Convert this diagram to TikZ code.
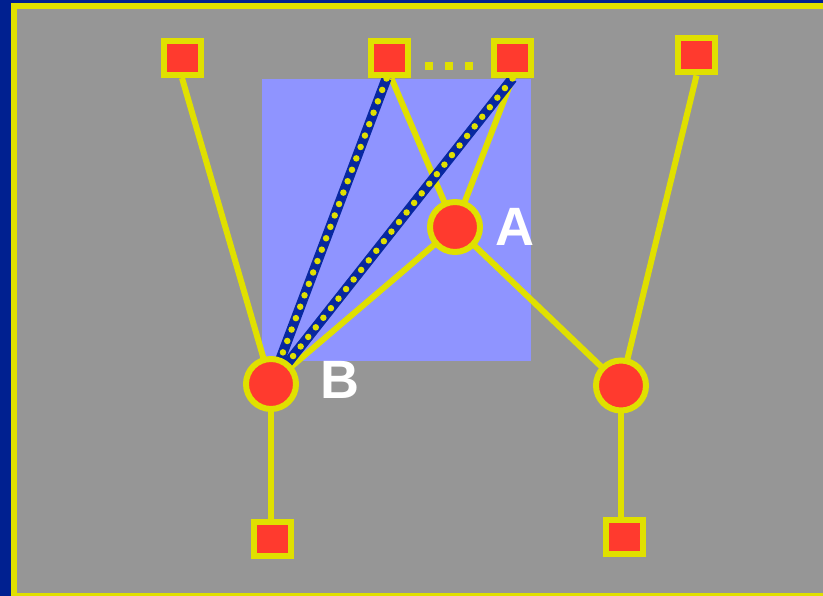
\documentclass[tikz,border=0pt]{standalone}
\usepackage{fontspec}
\setmainfont{Liberation Sans}
\definecolor{bgblue}{RGB}{0,32,144}
\definecolor{panelgray}{RGB}{150,150,150}
\definecolor{ylw}{RGB}{224,224,0}
\definecolor{rd}{RGB}{255,58,46}
\definecolor{lblue}{RGB}{143,148,255}
\definecolor{dblue}{RGB}{8,40,160}
\pgfdeclarelayer{bg}
\pgfdeclarelayer{edges}
\pgfsetlayers{bg,edges,main}
\tikzset{
  sq/.style={draw=ylw, fill=rd, line width=6pt, rectangle, minimum width=37pt, minimum height=34pt, inner sep=0pt},
  rnd/.style={draw=ylw, fill=rd, line width=6pt, circle, minimum size=50pt, inner sep=0pt},
  edge/.style={draw=ylw, line width=6pt},
  dotband/.style={draw=dblue, line width=10pt},
  dotline/.style={draw=ylw, line width=6.5pt, line cap=round, dash pattern=on 0pt off 12.2pt},
  lab/.style={text=white, font=\fontsize{54}{54}\selectfont\bfseries, inner sep=0pt},
  dotsq/.style={fill=ylw, minimum size=8pt, inner sep=0pt, rectangle}
}
\begin{document}
\begin{tikzpicture}[x=1pt,y=-1pt]
\useasboundingbox (0,0) rectangle (823,596);
\begin{pgfonlayer}{bg}
\fill[bgblue] (0,0) rectangle (823,596);
\draw[ylw, line width=6pt, fill=panelgray] (14,6.5) rectangle (840,596);
\fill[lblue] (262,79) rectangle (531,361);
\end{pgfonlayer}
% nodes
\node[rnd] (A) at (455,227) {};
\node[rnd] (B) at (271,384) {};
\node[rnd] (C) at (621,385.5) {};
\node[sq] (s1) at (182,58) {};
\node[sq] (s2) at (389.5,58.5) {};
\node[sq] (s3) at (512.5,58.5) {};
\node[sq] (s4) at (696.5,55.5) {};
\node[sq] (s5) at (272.5,539) {};
\node[sq] (s6) at (624.5,536.5) {};
\node[dotsq] (d1) at (429,66.5) {};
\node[dotsq] (d2) at (449,66.5) {};
\node[dotsq] (d3) at (469,66.5) {};
\node[lab, anchor=base] (labA) at (514.5,246) {A};
\node[lab, anchor=base] (labB) at (339.5,399) {B};
% connectors
\begin{pgfonlayer}{edges}
\draw[edge] (s1.south) -- (B.center);
\draw[edge] ([xshift=2pt]s2.south) -- (A.center);
\draw[edge] (s3.south) -- (A.center);
\draw[edge] (A.center) -- (B.center);
\draw[edge] (A.center) -- (C.center);
\draw[edge] (s4.south) -- (C.center);
\draw[edge] (B.center) -- (B.center |- s5.north);
\draw[edge] (C.center) -- (C.center |- s6.north);
\draw[dotband] ([xshift=-3pt]s2.south) -- (B.center);
\draw[dotband] (s3.south) -- (B.center);
\draw[dotline] ([xshift=-3pt]s2.south) -- (B.center);
\draw[dotline] (s3.south) -- (B.center);
\end{pgfonlayer}
\end{tikzpicture}
\end{document}
